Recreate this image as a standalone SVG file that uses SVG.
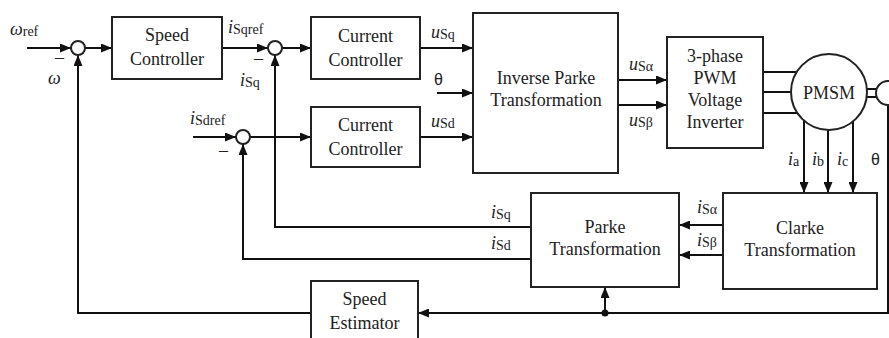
<svg xmlns="http://www.w3.org/2000/svg" width="889" height="338" viewBox="0 0 889 338">
<defs>
<marker id="arr" markerUnits="userSpaceOnUse" markerWidth="11" markerHeight="9" refX="11" refY="4.5" orient="auto">
<path d="M0,0 L11,4.5 L0,9 z" fill="#111"/>
</marker>
<style>
.box{fill:#fff;stroke:#222;stroke-width:2}
.ln{fill:none;stroke:#111;stroke-width:2}
.ar{fill:none;stroke:#111;stroke-width:2;marker-end:url(#arr)}
.t{font-family:"Liberation Serif","Times New Roman",serif;font-size:18px;fill:#222;text-anchor:middle}
.lb{font-family:"Liberation Serif","Times New Roman",serif;font-size:18px;fill:#222}
.it{font-style:italic}
.sub{font-size:14px}
.th{font-family:"Liberation Sans","DejaVu Sans",sans-serif;font-size:16px;fill:#222}
</style>
</defs>
<rect width="889" height="338" fill="#fff"/>

<g id="connectors">
<path class="ar" d="M27,48 L71,48"/>
<path class="ar" d="M85,48 L112,48"/>
<path class="ar" d="M222,48 L268,48"/>
<path class="ar" d="M282,48 L311,48"/>
<path class="ar" d="M420,48 L473,48"/>
<path class="ar" d="M437,93 L473,93"/>
<path class="ar" d="M193,137 L236,137"/>
<path class="ar" d="M250,137 L311,137"/>
<path class="ar" d="M420,137 L473,137"/>
<path class="ar" d="M618,80 L667,80"/>
<path class="ar" d="M618,105 L667,105"/>
<path class="ln" d="M763,72 L797,72 M763,92 L791,92 M763,113 L797,113"/>
<path class="ln" d="M866,89 L877,89 M866,97 L877,97"/>
<path class="ar" d="M804,121 L804,193"/>
<path class="ar" d="M828,130 L828,193"/>
<path class="ar" d="M853,121 L853,193"/>
<path class="ln" d="M888,105 L888,313 L605,313"/>
<path class="ar" d="M605,313 L418,313"/>
<path class="ar" d="M605,313 L605,287"/>
<circle cx="605" cy="313" r="3.5" fill="#111"/>
<path class="ar" d="M311,313 L78,313 L78,55"/>
<path class="ar" d="M723,225 L679,225"/>
<path class="ar" d="M723,255 L679,255"/>
<path class="ar" d="M531,227 L275,227 L275,55"/>
<path class="ar" d="M531,259 L243,259 L243,144"/>
</g>

<g id="sum1"><circle cx="78" cy="48" r="7" class="box"/></g>
<g id="sum2"><circle cx="275" cy="48" r="7" class="box"/></g>
<g id="sum3"><circle cx="243" cy="137" r="7" class="box"/></g>

<g id="speed-controller">
<rect class="box" x="112" y="17" width="110" height="62"/>
<text class="t" x="167" y="41">Speed</text>
<text class="t" x="167" y="65">Controller</text>
</g>
<g id="current-controller-q">
<rect class="box" x="311" y="17" width="109" height="62"/>
<text class="t" x="365.5" y="42">Current</text>
<text class="t" x="365.5" y="66">Controller</text>
</g>
<g id="current-controller-d">
<rect class="box" x="311" y="107" width="109" height="60"/>
<text class="t" x="365.5" y="131">Current</text>
<text class="t" x="365.5" y="155">Controller</text>
</g>
<g id="inverse-parke">
<rect class="box" x="473" y="13" width="145" height="160"/>
<text class="t" x="546" y="84">Inverse Parke</text>
<text class="t" x="546" y="106">Transformation</text>
</g>
<g id="inverter">
<rect class="box" x="667" y="37" width="96" height="111"/>
<text class="t" x="715" y="62">3-phase</text>
<text class="t" x="715" y="84">PWM</text>
<text class="t" x="715" y="106">Voltage</text>
<text class="t" x="715" y="128">Inverter</text>
</g>
<g id="pmsm">
<circle class="box" cx="829" cy="92" r="38"/>
<text class="t" x="829" y="99">PMSM</text>
</g>
<g id="encoder">
<circle class="box" cx="888" cy="93" r="12"/>
</g>
<g id="clarke">
<rect class="box" x="723" y="193" width="154" height="96"/>
<text class="t" x="800" y="234">Clarke</text>
<text class="t" x="800" y="256">Transformation</text>
</g>
<g id="parke">
<rect class="box" x="531" y="193" width="148" height="94"/>
<text class="t" x="605" y="233">Parke</text>
<text class="t" x="605" y="255">Transformation</text>
</g>
<g id="speed-estimator">
<rect class="box" x="311" y="281" width="107" height="62"/>
<text class="t" x="364.5" y="305">Speed</text>
<text class="t" x="364.5" y="329">Estimator</text>
</g>

<g id="labels">
<text class="lb" x="10" y="35"><tspan class="it">ω</tspan><tspan class="sub" dy="1">ref</tspan></text>
<text class="lb" x="55" y="63">–</text>
<text class="lb it" x="48" y="84">ω</text>
<text class="lb" x="228" y="33"><tspan class="it">i</tspan><tspan class="sub" dy="1">Sqref</tspan></text>
<text class="lb" x="254" y="64">–</text>
<text class="lb" x="240" y="86"><tspan class="it">i</tspan><tspan class="sub" dy="1">Sq</tspan></text>
<text class="lb" x="190" y="124"><tspan class="it">i</tspan><tspan class="sub" dy="1">Sdref</tspan></text>
<text class="lb" x="219" y="156">–</text>
<text class="lb" x="431" y="38"><tspan class="it">u</tspan><tspan class="sub" dy="1">Sq</tspan></text>
<text class="th" x="434" y="85">θ</text>
<text class="lb" x="431" y="127"><tspan class="it">u</tspan><tspan class="sub" dy="1">Sd</tspan></text>
<text class="lb" x="629" y="70"><tspan class="it">u</tspan><tspan class="sub" dy="1">Sα</tspan></text>
<text class="lb" x="629" y="126"><tspan class="it">u</tspan><tspan class="sub" dy="1">Sβ</tspan></text>
<text class="lb" x="788" y="165"><tspan class="it">i</tspan><tspan class="sub" dy="1">a</tspan></text>
<text class="lb" x="812" y="165"><tspan class="it">i</tspan><tspan class="sub" dy="1">b</tspan></text>
<text class="lb" x="837" y="165"><tspan class="it">i</tspan><tspan class="sub" dy="1">c</tspan></text>
<text class="th" x="871" y="165">θ</text>
<text class="lb" x="697" y="213"><tspan class="it">i</tspan><tspan class="sub" dy="1">Sα</tspan></text>
<text class="lb" x="697" y="246"><tspan class="it">i</tspan><tspan class="sub" dy="1">Sβ</tspan></text>
<text class="lb" x="491" y="218"><tspan class="it">i</tspan><tspan class="sub" dy="1">Sq</tspan></text>
<text class="lb" x="491" y="249"><tspan class="it">i</tspan><tspan class="sub" dy="1">Sd</tspan></text>
</g>
</svg>
